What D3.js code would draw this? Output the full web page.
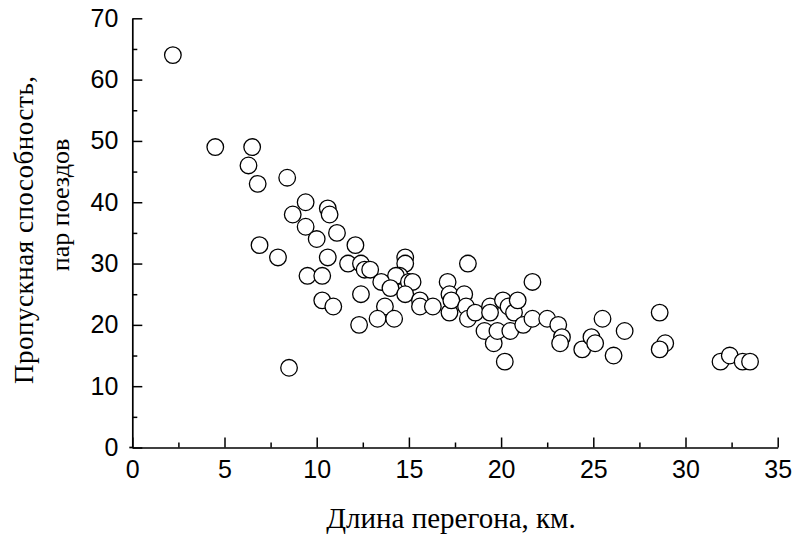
<!DOCTYPE html>
<html>
<head>
<meta charset="utf-8">
<script src="https://cdn.jsdelivr.net/npm/d3@7"></script>
<style>
  html, body { margin: 0; padding: 0; background: #fff; }
  svg { display: block; }
</style>
</head>
<body>
<svg id="chart" width="795" height="539"></svg>
<script>
// Section length (km) and capacity (train pairs) for each observed section
const sectionLength = [
  2.2, 4.5, 6.5, 6.3, 6.8, 8.4, 9.4, 8.7, 10.6, 10.7,
  9.4, 10.0, 11.1, 6.9, 7.9, 10.6, 9.5, 10.3, 10.3, 10.9,
  8.5, 12.1, 11.7, 12.4, 12.6, 12.9, 14.8, 14.8, 14.5, 14.3,
  13.5, 15.0, 15.2, 14.0, 14.8, 12.4, 13.7, 13.3, 14.2, 12.3,
  15.6, 15.6, 16.3, 17.1, 17.2, 18.0, 18.2, 17.2, 17.3, 18.1,
  18.2, 18.6, 19.1, 19.4, 19.4, 19.6, 19.8, 20.1, 20.4, 20.5,
  20.7, 20.9, 20.2, 21.2, 21.7, 21.7, 22.5, 23.1, 23.3, 23.2,
  24.4, 24.9, 25.1, 25.5, 26.1, 26.7, 28.6, 28.9, 28.6, 31.9,
  32.4, 33.1, 33.5
];
const trainPairs = [
  64, 49, 49, 46, 43, 44, 40, 38, 39, 38,
  36, 34, 35, 33, 31, 31, 28, 28, 24, 23,
  13, 33, 30, 30, 29, 29, 31, 30, 28, 28,
  27, 27, 27, 26, 25, 25, 23, 21, 21, 20,
  24, 23, 23, 27, 25, 25, 30, 22, 24, 23,
  21, 22, 19, 23, 22, 17, 19, 24, 23, 19,
  22, 24, 14, 20, 21, 27, 21, 20, 18, 17,
  16, 18, 17, 21, 15, 19, 22, 17, 16, 14,
  15, 14, 14
];
const xMajorTicks = [0, 5, 10, 15, 20, 25, 30, 35];
const xMinorTicks = [2.5, 7.5, 12.5, 17.5, 22.5, 27.5, 32.5];
const yMajorTicks = [0, 10, 20, 30, 40, 50, 60, 70];
const yMinorTicks = [5, 15, 25, 35, 45, 55, 65];
const xTitle = "Длина перегона, км.";
const yTitleLines = ["Пропускная способность,", "пар поездов"];

const svg = d3.select("#chart");
const plotLeft = 132.3, plotRight = 777.7, plotTop = 18.3, plotBottom = 447.5;

const x = d3.scaleLinear().domain([0, 35]).range([plotLeft, plotRight]);
const y = d3.scaleLinear().domain([0, 70]).range([plotBottom, plotTop]);

const tickFont = "'Liberation Sans', Arial, sans-serif";
const titleFont = "'Liberation Serif', 'Times New Roman', serif";

function styleAxis(g) {
  g.selectAll("path.domain").attr("stroke", "#000").attr("stroke-width", 1.7);
  g.selectAll(".tick line").attr("stroke", "#000").attr("stroke-width", 1.5);
  g.selectAll(".tick text")
    .attr("fill", "#000")
    .style("font-family", tickFont)
    .style("font-size", "25px");
}

// x axis: ticks point inward (upward)
const gx = svg.append("g").attr("transform", `translate(0,${plotBottom})`)
  .call(d3.axisBottom(x).tickValues(xMajorTicks).tickSizeInner(-10).tickSizeOuter(0)
    .tickPadding(13).tickFormat(d3.format("d")));
styleAxis(gx);
gx.selectAll(".tick text").attr("dy", "0.71em");
// short stub where the two axes meet
gx.append("line").attr("x1", plotLeft - 3).attr("x2", plotLeft).attr("y1", 0).attr("y2", 0)
  .attr("stroke", "#000").attr("stroke-width", 1.7);

const gxMinor = svg.append("g").attr("transform", `translate(0,${plotBottom})`)
  .call(d3.axisBottom(x).tickValues(xMinorTicks).tickSizeInner(-5).tickSizeOuter(0).tickFormat(""));
styleAxis(gxMinor);
gxMinor.select("path.domain").remove();

// y axis: ticks point inward (to the right)
const gy = svg.append("g").attr("transform", `translate(${plotLeft},0)`)
  .call(d3.axisLeft(y).tickValues(yMajorTicks).tickSizeInner(-10).tickSizeOuter(0)
    .tickPadding(14).tickFormat(d3.format("d")));
styleAxis(gy);

const gyMinor = svg.append("g").attr("transform", `translate(${plotLeft},0)`)
  .call(d3.axisLeft(y).tickValues(yMinorTicks).tickSizeInner(-5).tickSizeOuter(0).tickFormat(""));
styleAxis(gyMinor);
gyMinor.select("path.domain").remove();

// observations as hollow circles
svg.append("g")
  .selectAll("circle")
  .data(d3.range(sectionLength.length))
  .join("circle")
  .attr("cx", i => x(sectionLength[i]))
  .attr("cy", i => y(trainPairs[i]))
  .attr("r", 8.3)
  .attr("fill", "#fff")
  .attr("stroke", "#000")
  .attr("stroke-width", 1.3);

// axis titles
svg.append("text")
  .attr("x", 451).attr("y", 528)
  .attr("text-anchor", "middle")
  .style("font-family", titleFont)
  .style("font-size", "29px")
  .attr("fill", "#000")
  .text(xTitle);

svg.append("text")
  .attr("transform", "translate(33,230) rotate(-90)")
  .attr("text-anchor", "middle")
  .attr("textLength", 308)
  .style("font-family", titleFont)
  .style("font-size", "27px")
  .attr("fill", "#000")
  .text(yTitleLines[0]);

svg.append("text")
  .attr("transform", "translate(69,205) rotate(-90)")
  .attr("text-anchor", "middle")
  .style("font-family", titleFont)
  .style("font-size", "26px")
  .attr("fill", "#000")
  .text(yTitleLines[1]);
</script>
</body>
</html>
